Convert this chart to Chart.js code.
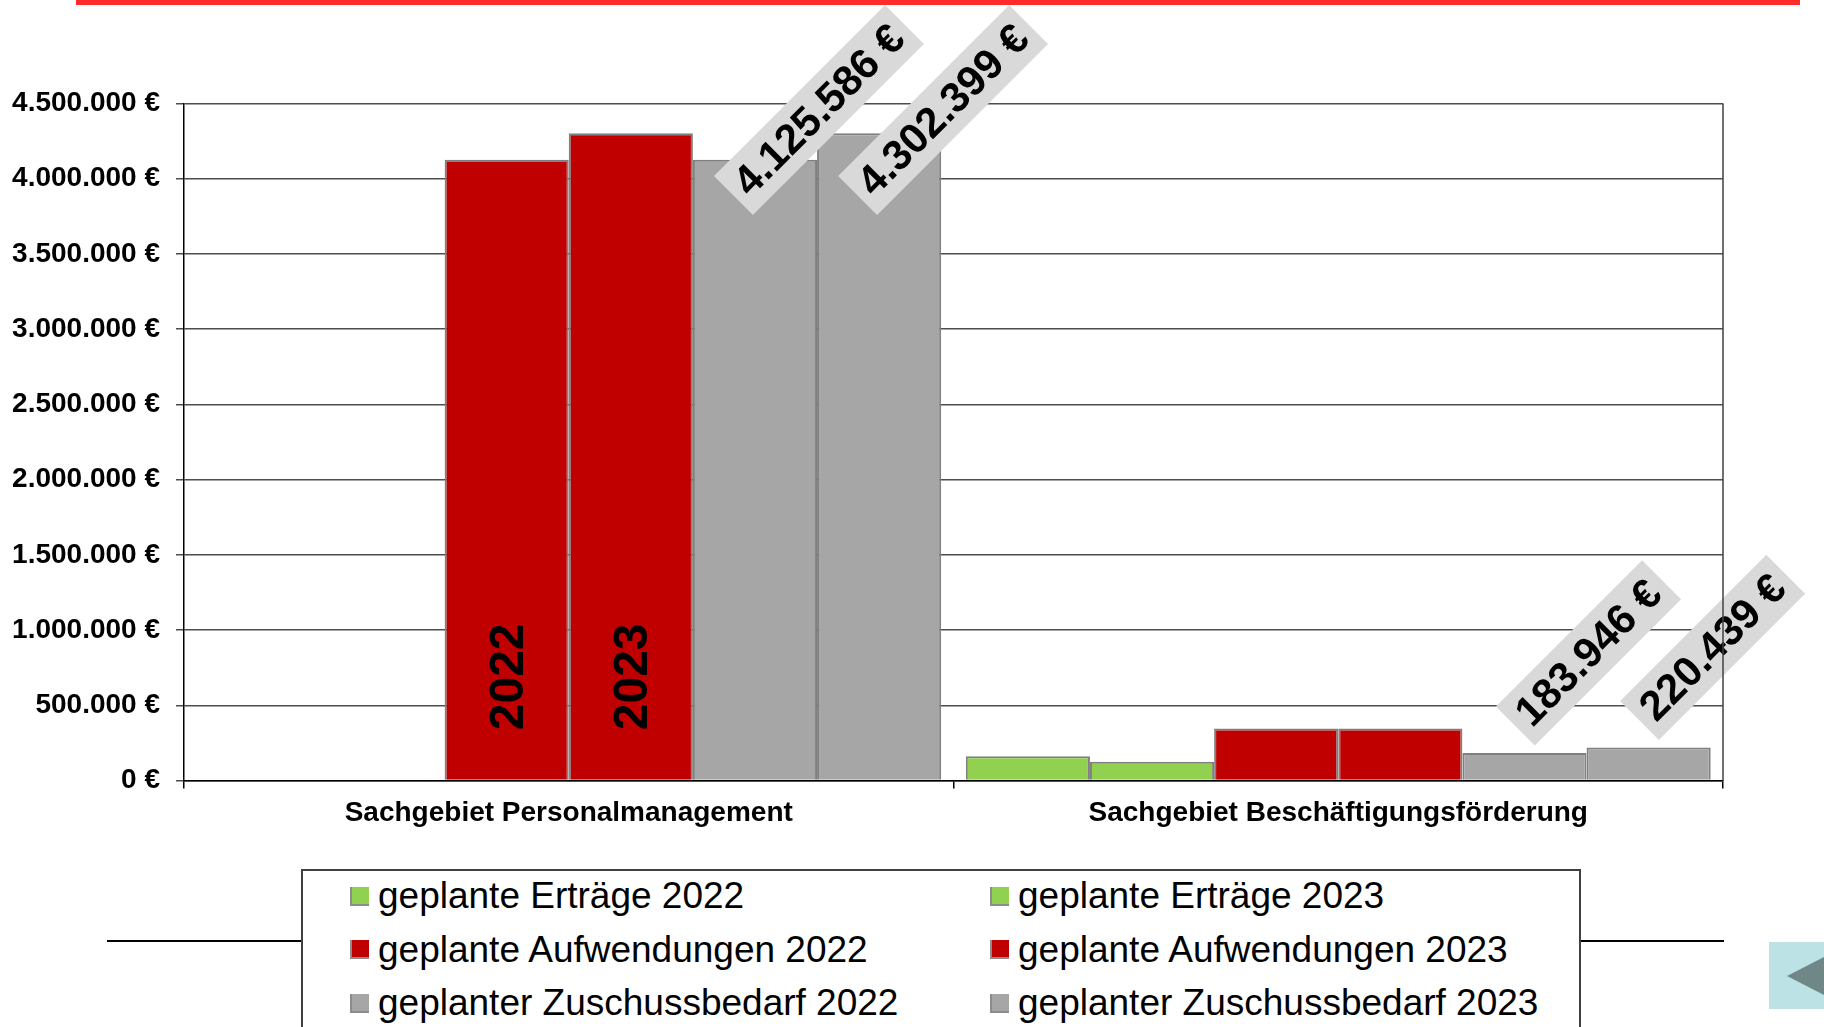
<!DOCTYPE html>
<html lang="de">
<head>
<meta charset="utf-8">
<title>Sachgebiete</title>
<script src="https://cdn.jsdelivr.net/npm/chart.js@4.4.0/dist/chart.umd.min.js"></script>
<style>
  html, body { margin: 0; padding: 0; background: #fff; overflow: hidden; }
  body { width: 1824px; height: 1027px; position: relative; font-family: "Liberation Sans", Arial, sans-serif; }
  #topLine { position: absolute; left: 76px; top: 0; width: 1724px; height: 5px; background: #ff2b2b; }
  #chartWrap { position: absolute; left: 0; top: 0; width: 1824px; height: 1027px; }
  #rule { position: absolute; left: 107px; top: 940px; width: 1617px; height: 2px; background: #000; }
  #legend { position: absolute; left: 301px; top: 869px; width: 1276px; height: 180px; border: 2px solid #404040; background: #fff; }
  .item { position: absolute; display: flex; align-items: center; height: 44px; font-size: 37px; color: #000; white-space: nowrap; }
  .swatch { width: 17px; height: 17px; margin-right: 9px; border-left: 2px solid #8c8c8c; border-bottom: 2px solid #8c8c8c; }
  #navBtn { position: absolute; left: 1769px; top: 942px; width: 55px; height: 67px; background: #bde2e6; }
</style>
</head>
<body>
<div id="topLine"></div>
<div id="rule"></div>
<div id="chartWrap"><canvas id="chart" width="1824" height="1027"></canvas></div>
<div id="legend"></div>
<div id="navBtn"><svg width="55" height="67"><polygon points="18,34 55,15 55,53" fill="#6f8787"/></svg></div>
<script>
const categories = ['Sachgebiet Personalmanagement', 'Sachgebiet Beschäftigungsförderung'];
const seriesNames = [
    'geplante Erträge 2022', 'geplante Erträge 2023',
    'geplante Aufwendungen 2022', 'geplante Aufwendungen 2023',
    'geplanter Zuschussbedarf 2022', 'geplanter Zuschussbedarf 2023'
];
const ertraege2022 = [0, 161500];
const ertraege2023 = [0, 125000];
const aufwendungen2022 = [4125586, 345446];
const aufwendungen2023 = [4302399, 345439];
const zuschuss2022 = [4125586, 183946];
const zuschuss2023 = [4302399, 220439];
const yearLabels = ['2022', '2023'];
const yMin = 0, yMax = 4500000, yStep = 500000;

const GREEN = '#92d050', RED = '#c00000', GREY = '#a6a6a6';
const seriesColors = [GREEN, GREEN, RED, RED, GREY, GREY];
const seriesValues = [ertraege2022, ertraege2023, aufwendungen2022, aufwendungen2023, zuschuss2022, zuschuss2023];

const FONT = '"Liberation Sans", Arial, sans-serif';

function euro(v) {
    return String(Math.round(v)).replace(/\B(?=(\d{3})+(?!\d))/g, '.') + ' €';
}

// rotated value boxes on the Zuschuss bars + year text in the red bars
const barLabels = {
    id: 'barLabels',
    afterDatasetsDraw(chart) {
        const ctx = chart.ctx;
        ctx.save();
        ctx.textAlign = 'center';
        ctx.textBaseline = 'middle';
        ctx.font = 'bold 42px ' + FONT;
        [4, 5].forEach(di => {
            chart.getDatasetMeta(di).data.forEach((bar, i) => {
                const text = euro(chart.data.datasets[di].data[i]);
                const w = ctx.measureText(text).width + 20;
                const h = 55;
                const half = (w + h) * Math.SQRT1_2 / 2;
                const cx = bar.x + 64;
                const cy = Math.max(bar.y - 100, 5 + half);
                ctx.save();
                ctx.translate(cx, cy);
                ctx.rotate(-Math.PI / 4);
                ctx.fillStyle = '#d9d9d9';
                ctx.fillRect(-w / 2, -h / 2, w, h);
                ctx.fillStyle = '#000';
                ctx.fillText(text, 0, 2);
                ctx.restore();
            });
        });

        ctx.font = 'bold 48px ' + FONT;
        ctx.fillStyle = '#000';
        [2, 3].forEach((di, k) => {
            const bar = chart.getDatasetMeta(di).data[0];
            ctx.save();
            ctx.translate(bar.x + 3, bar.base - 103);
            ctx.rotate(-Math.PI / 2);
            ctx.fillText(yearLabels[k], 0, 0);
            ctx.restore();
        });

        // right edge of the plot area
        const a = chart.chartArea;
        ctx.strokeStyle = '#404040';
        ctx.lineWidth = 1.5;
        ctx.beginPath();
        ctx.moveTo(a.right, a.top);
        ctx.lineTo(a.right, a.bottom);
        ctx.stroke();
        ctx.restore();
    }
};

const chart = new Chart(document.getElementById('chart'), {
    type: 'bar',
    data: {
        labels: categories,
        datasets: seriesNames.map((name, i) => ({
            label: name,
            data: seriesValues[i],
            backgroundColor: seriesColors[i],
            borderColor: '#808080',
            borderWidth: 2,
            categoryPercentage: 0.968,
            barPercentage: 1
        }))
    },
    options: {
        responsive: false,
        animation: false,
        layout: { padding: { left: 0, right: 101, top: 103.5, bottom: 0 } },
        plugins: {
            legend: { display: false },
            tooltip: { enabled: false }
        },
        scales: {
            x: {
                afterFit(scale) { scale.height = 246.4; },
                grid: { drawOnChartArea: false, drawTicks: true, tickLength: 8, color: '#000', lineWidth: 1.5 },
                border: { color: '#000', width: 1.5 },
                ticks: { color: '#000', padding: 8, maxRotation: 0, font: { family: FONT, size: 28, weight: 'bold' } }
            },
            y: {
                min: yMin,
                max: yMax,
                afterFit(scale) { scale.width = 184; },
                grid: { color: '#4d4d4d', lineWidth: 1.5, tickLength: 8 },
                border: { color: '#000', width: 1.5 },
                ticks: {
                    stepSize: yStep,
                    color: '#000',
                    padding: 16,
                    font: { family: FONT, size: 28, weight: 'bold' },
                    callback: v => euro(v)
                }
            }
        }
    },
    plugins: [barLabels]
});

// two-column legend built from the datasets
const legend = document.getElementById('legend');
chart.data.datasets.forEach((ds, i) => {
    const col = i % 2, row = Math.floor(i / 2);
    const item = document.createElement('div');
    item.className = 'item';
    item.style.left = (col === 0 ? 47 : 687) + 'px';
    item.style.top = (3 + row * 53.5) + 'px';
    const sw = document.createElement('span');
    sw.className = 'swatch';
    sw.style.background = ds.backgroundColor;
    item.appendChild(sw);
    item.appendChild(document.createTextNode(ds.label));
    legend.appendChild(item);
});
</script>
</body>
</html>
